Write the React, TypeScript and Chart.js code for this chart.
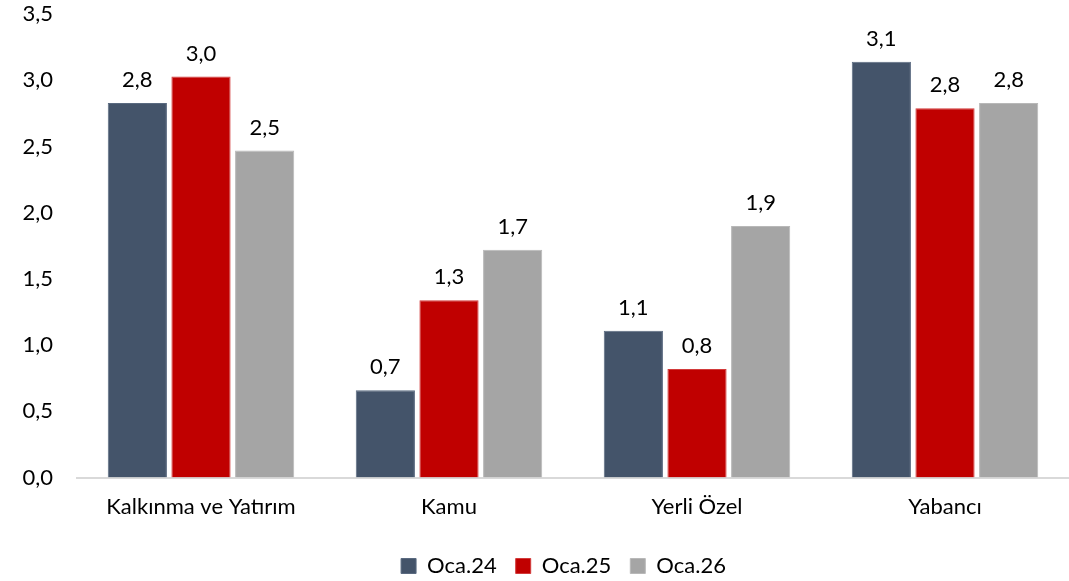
import React, { useEffect, useRef } from "react";
import { Chart, registerables } from "chart.js";

Chart.register(...registerables);

const categories = ["Kalkınma ve Yatırım", "Kamu", "Yerli Özel", "Yabancı"];
const seriesNames = ["Oca.24", "Oca.25", "Oca.26"];
const oca24 = [2.83, 0.66, 1.11, 3.14];
const oca25 = [3.03, 1.34, 0.82, 2.79];
const oca26 = [2.47, 1.72, 1.9, 2.83];
const colors = ["#44546a", "#c00000", "#a5a5a5"];
const borderColors = ["#5a6a80", "#d23a3a", "#b8b8b8"];

const FONT = "Lato, 'Open Sans', sans-serif";
const SIZE = 22;
const SHIFT = 23;
const LEGEND_OFFSET = 29;

const fmt = (v: number) => v.toFixed(1).replace(".", ",");

const labelPlugin = {
  id: "barLabels",
  afterLayout(chart: any) {
    const lg = chart.legend;
    if (lg) {
      lg.left += LEGEND_OFFSET;
      lg.right += LEGEND_OFFSET;
    }
  },
  afterDatasetsDraw(chart: any) {
    const ctx = chart.ctx;
    ctx.save();
    ctx.font = `${SIZE}px ${FONT}`;
    ctx.fillStyle = "#000000";
    ctx.textAlign = "center";
    ctx.textBaseline = "middle";
    chart.data.datasets.forEach((ds: any, i: number) => {
      const meta = chart.getDatasetMeta(i);
      meta.data.forEach((bar: any, j: number) => {
        ctx.fillText(fmt(ds.data[j]), bar.x, bar.y - 23);
      });
    });
    ctx.restore();
  },
};

export default function App() {
  const ref = useRef<HTMLCanvasElement | null>(null);
  useEffect(() => {
    document.body.style.margin = "0";
    document.body.style.overflow = "hidden";
    const series = [oca24, oca25, oca26];
    const chart = new Chart(ref.current as HTMLCanvasElement, {
      type: "bar",
      data: {
        labels: categories,
        datasets: series.map((d, i) => ({
          label: seriesNames[i],
          data: d,
          backgroundColor: colors[i],
          borderColor: borderColors[i],
          borderWidth: 1,
          barPercentage: 0.93,
          categoryPercentage: 0.77,
        })),
      },
      options: {
        animation: false,
        responsive: false,
        maintainAspectRatio: false,
        layout: { padding: { top: -22, right: 0, left: 0, bottom: -6 } },
        plugins: {
          legend: {
            position: "bottom",
            labels: {
              font: { family: FONT, size: SIZE },
              color: "#000000",
              boxWidth: 15,
              boxHeight: 15,
              padding: 19,
              useBorderRadius: false,
            },
          },
          tooltip: { enabled: false },
        },
        scales: {
          x: {
            grid: { display: false, drawTicks: false },
            border: { display: true, color: "#d9d9d9", width: 2 },
            ticks: {
              font: { family: FONT, size: SIZE },
              color: "#000000",
              padding: 16,
            },
          },
          y: {
            min: 0,
            max: 3.5,
            grid: { display: false, drawTicks: false },
            border: { display: false },
            ticks: {
              stepSize: 0.5,
              font: { family: FONT, size: SIZE },
              color: "#000000",
              padding: 24,
              callback: (v: any) => fmt(Number(v)),
            },
            afterFit: (scale: any) => {
              scale.width = 77;
            },
          },
        },
      },
      plugins: [labelPlugin],
    });
    return () => chart.destroy();
  }, []);
  return (
    <div style={{ width: 1069, height: 581, overflow: "hidden" }}>
      <canvas
        ref={ref}
        width={1069}
        height={581 + SHIFT}
        style={{ display: "block", marginTop: -SHIFT }}
      />
    </div>
  );
}
